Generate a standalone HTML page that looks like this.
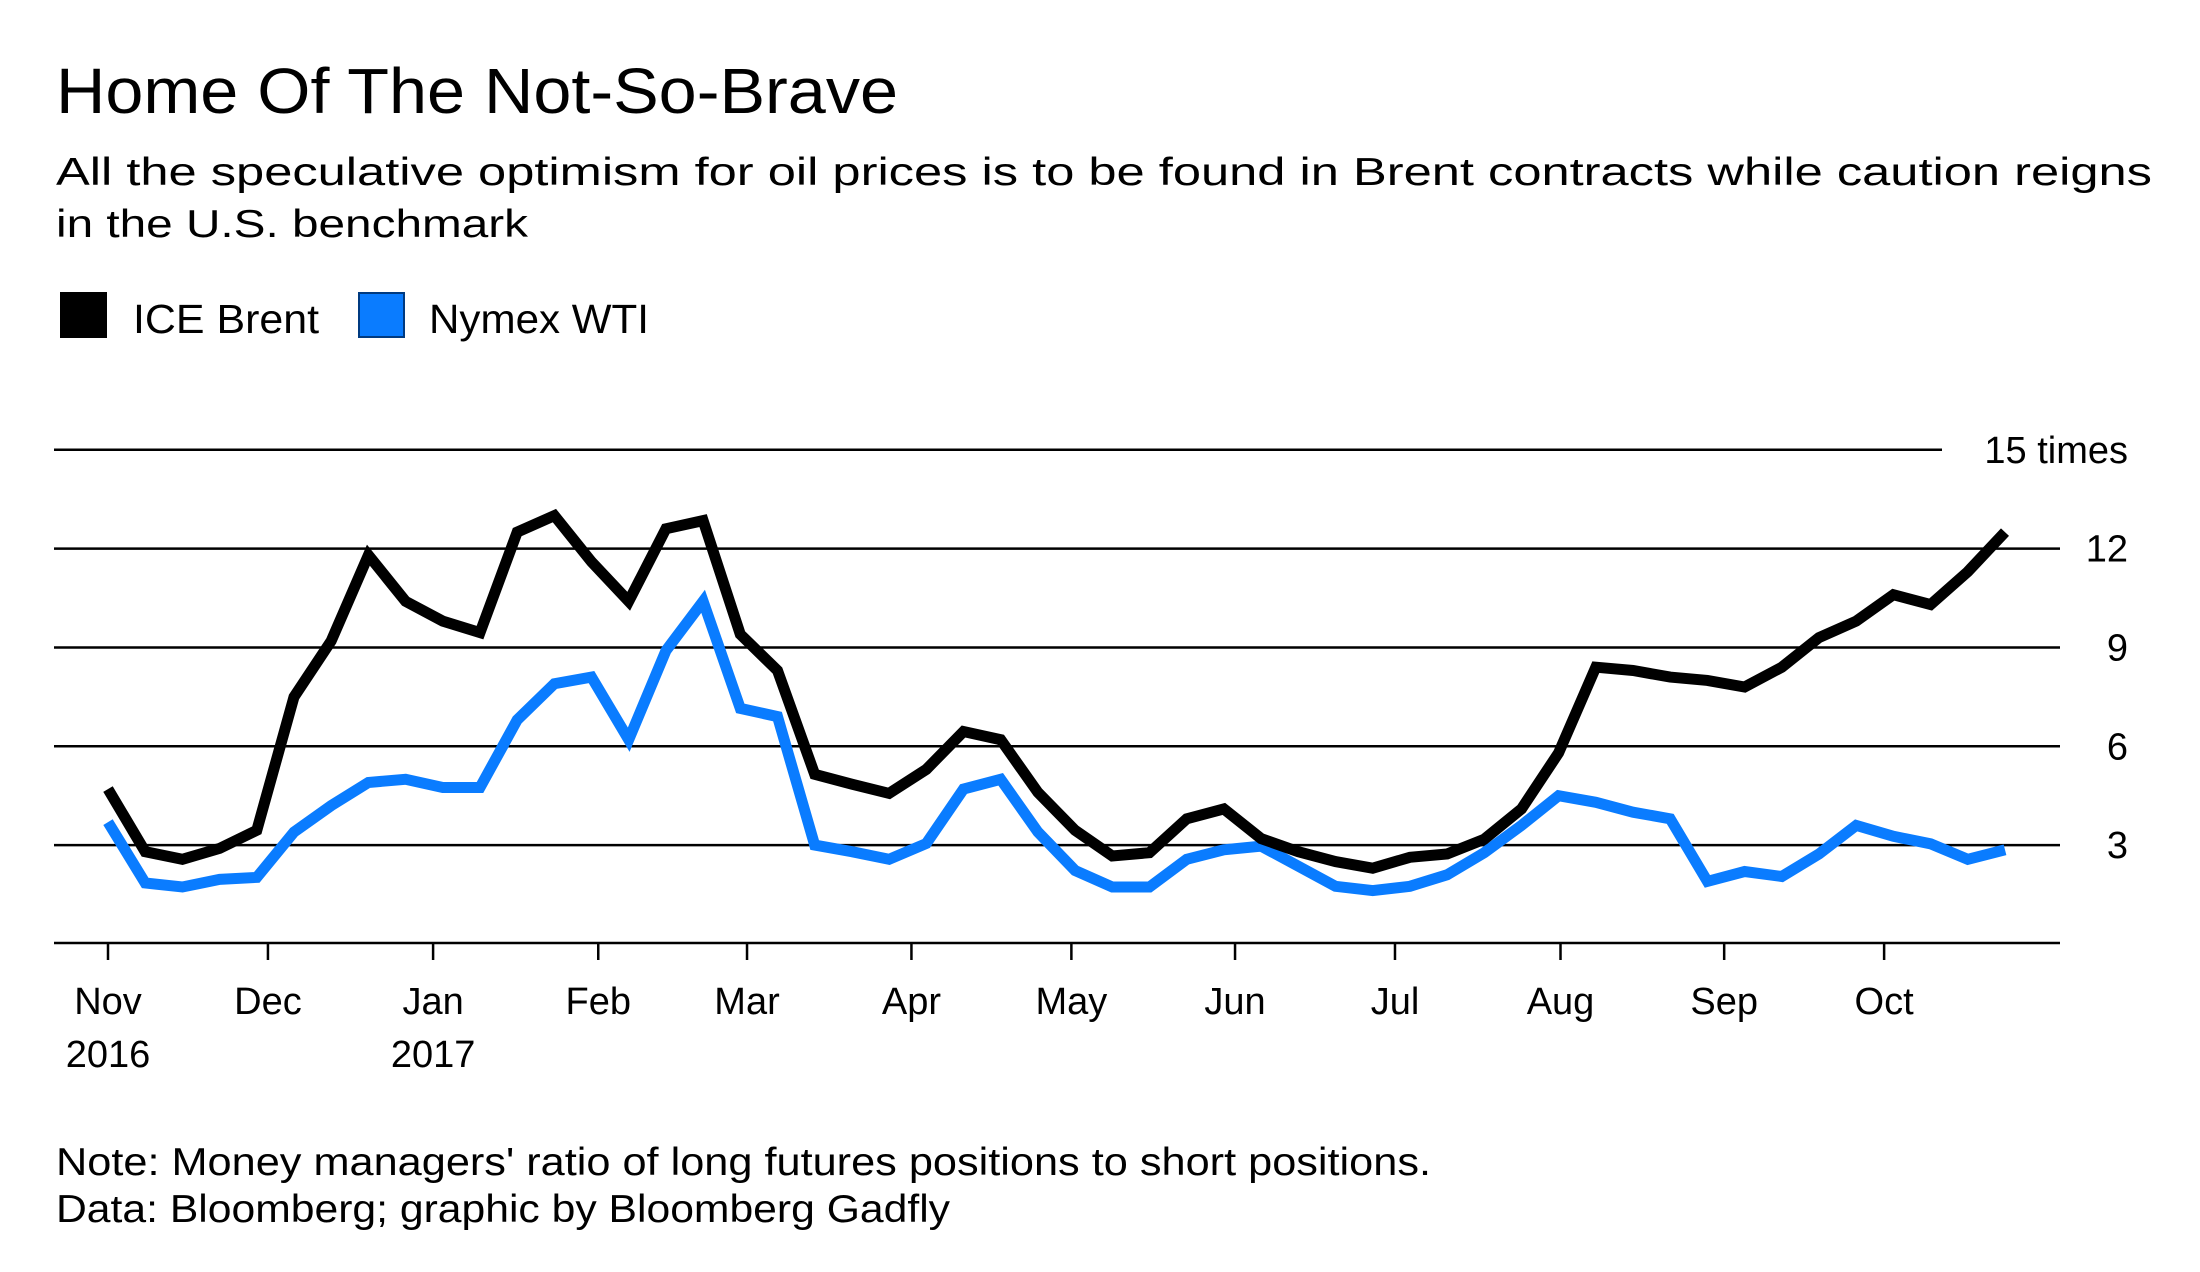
<!DOCTYPE html>
<html><head><meta charset="utf-8"><style>
html,body{margin:0;padding:0;background:#fff;}
svg{display:block;font-family:"Liberation Sans",sans-serif;}
</style></head><body>
<svg id="chart" width="2200" height="1272" viewBox="0 0 2200 1272" xmlns="http://www.w3.org/2000/svg">
<rect width="2200" height="1272" fill="#fff"/>
<text x="56" y="113" font-size="64" textLength="842" lengthAdjust="spacingAndGlyphs" fill="#000">Home Of The Not-So-Brave</text>
<text x="56" y="185" font-size="39" textLength="2096" lengthAdjust="spacingAndGlyphs" fill="#000">All the speculative optimism for oil prices is to be found in Brent contracts while caution reigns</text>
<text x="56" y="237" font-size="39" textLength="472" lengthAdjust="spacingAndGlyphs" fill="#000">in the U.S. benchmark</text>
<g>
<rect x="60" y="292" width="47" height="46" fill="#000"/>
<text x="133" y="333" font-size="41" textLength="186" lengthAdjust="spacingAndGlyphs">ICE Brent</text>
<rect x="359" y="293" width="45" height="44" fill="#0a7cff" stroke="#003a80" stroke-width="2"/>
<text x="429" y="333" font-size="41" textLength="220" lengthAdjust="spacingAndGlyphs">Nymex WTI</text>
</g>
<g id="grid"></g>
<g id="yticks"></g>
<g id="xaxis"></g>
<g id="series"></g>
<text x="56" y="1175" font-size="39" textLength="1375" lengthAdjust="spacingAndGlyphs">Note: Money managers' ratio of long futures positions to short positions.</text>
<text x="56" y="1222" font-size="39" textLength="894" lengthAdjust="spacingAndGlyphs">Data: Bloomberg; graphic by Bloomberg Gadfly</text>
</svg>
<script>
const yTicks = [3, 6, 9, 12, 15];
const yTickLabels = ["3", "6", "9", "12", "15 times"];
const monthLabels = ["Nov", "Dec", "Jan", "Feb", "Mar", "Apr", "May", "Jun", "Jul", "Aug", "Sep", "Oct"];
const yearLabels = ["2016", "", "2017", "", "", "", "", "", "", "", "", ""];
const monthWeekPos = [0, 4.3, 8.74, 13.18, 17.18, 21.6, 25.9, 30.3, 34.6, 39.05, 43.45, 47.75];
const brent = [4.7,2.8,2.57,2.9,3.45,7.5,9.2,11.8,10.4,9.8,9.45,12.5,13.0,11.6,10.4,12.6,12.85,9.4,8.3,5.15,4.85,4.57,5.3,6.45,6.2,4.6,3.45,2.67,2.77,3.8,4.1,3.2,2.8,2.5,2.3,2.63,2.73,3.18,4.1,5.8,8.4,8.3,8.1,8.0,7.8,8.4,9.3,9.8,10.6,10.3,11.3,12.5];
const wti = [3.7,1.85,1.73,1.96,2.02,3.4,4.2,4.9,5.0,4.75,4.75,6.8,7.9,8.1,6.2,8.9,10.4,7.15,6.9,3.0,2.8,2.57,3.05,4.7,5.0,3.4,2.23,1.73,1.73,2.57,2.86,2.97,2.36,1.75,1.62,1.75,2.1,2.77,3.6,4.5,4.3,4.0,3.8,1.9,2.2,2.05,2.73,3.6,3.27,3.04,2.57,2.86];

const NS = "http://www.w3.org/2000/svg";
const x0 = 108, x1 = 2005;
const xs = i => x0 + (x1 - x0) * i / (brent.length - 1);
const ys = v => 944 - v * 32.95;
const mk = (tag, parent) => { const e = document.createElementNS(NS, tag); parent.appendChild(e); return e; };

const grid = document.getElementById('grid');
const yt = document.getElementById('yticks');
yTicks.forEach((v, i) => {
  const l = mk('line', grid);
  
  
  l.setAttribute('x1', 54); l.setAttribute('x2', v === 15 ? 1942 : 2060);
  l.setAttribute('y1', ys(v)); l.setAttribute('y2', ys(v));
  l.setAttribute('stroke', '#000'); l.setAttribute('stroke-width', 2.5);
  const t = mk('text', yt);
  
  
  t.setAttribute('x', 2128); t.setAttribute('y', ys(v) + 13);
  t.setAttribute('text-anchor', 'end'); t.setAttribute('font-size', 38);
  t.textContent = yTickLabels[i];
});

const xa = document.getElementById('xaxis');
const base = mk('line', xa);


base.setAttribute('x1', 54); base.setAttribute('x2', 2060);
base.setAttribute('y1', 943); base.setAttribute('y2', 943);
base.setAttribute('stroke', '#000'); base.setAttribute('stroke-width', 2.5);
monthLabels.forEach((m, i) => {
  const x = xs(monthWeekPos[i]);
  const tk = mk('line', xa);
  
  
  tk.setAttribute('x1', x); tk.setAttribute('x2', x);
  tk.setAttribute('y1', 943); tk.setAttribute('y2', 960);
  tk.setAttribute('stroke', '#000'); tk.setAttribute('stroke-width', 2.5);
  const t = mk('text', xa);
  
  
  t.setAttribute('x', x); t.setAttribute('y', 1014);
  t.setAttribute('text-anchor', 'middle'); t.setAttribute('font-size', 38);
  t.textContent = m;
  if (yearLabels[i]) {
    const y = mk('text', xa);
    
    
    y.setAttribute('x', x); y.setAttribute('y', 1067);
    y.setAttribute('text-anchor', 'middle'); y.setAttribute('font-size', 38);
    y.textContent = yearLabels[i];
  }
});

const ser = document.getElementById('series');
[[wti, '#0a7cff', 'nymex-wti-line'], [brent, '#000', 'ice-brent-line']].forEach(([d, c, n]) => {
  const p = mk('polyline', ser);
  
  
  p.setAttribute('points', d.map((v, i) => xs(i).toFixed(1) + ',' + ys(v).toFixed(1)).join(' '));
  p.setAttribute('fill', 'none'); p.setAttribute('stroke', c);
  p.setAttribute('stroke-width', 11); p.setAttribute('stroke-linejoin', 'miter');
});
</script>
</body></html>
